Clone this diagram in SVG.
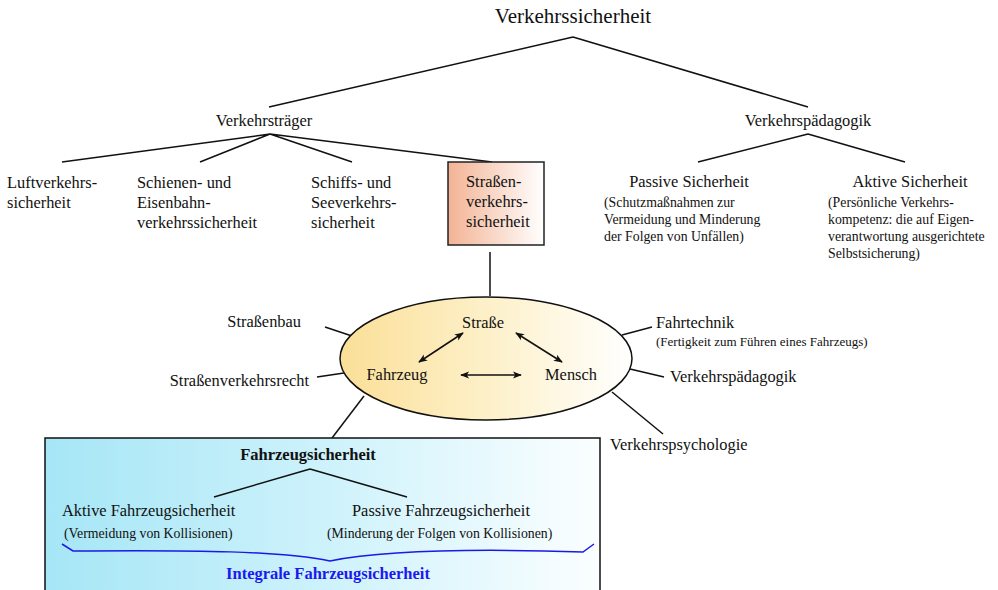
<svg xmlns="http://www.w3.org/2000/svg" width="998" height="590" viewBox="0 0 998 590">
<style>
text{font-family:"Liberation Serif","Times New Roman",serif;fill:#111}
.n{font-size:16.4px}
.s{font-size:13.8px}
.b{font-size:16.5px;font-weight:bold}
.c{text-anchor:middle}
.e{text-anchor:end}
.ln{stroke:#111;stroke-width:1.5;fill:none}
.ar{stroke:#111;stroke-width:1.5;fill:none;marker-start:url(#ah);marker-end:url(#ah)}
</style>
<defs>
<marker id="ah" viewBox="0 0 10 10" refX="9" refY="5" markerWidth="9" markerHeight="9" markerUnits="userSpaceOnUse" orient="auto-start-reverse">
<path d="M0,1 L10,5 L0,9 L2.5,5 Z" fill="#111"/>
</marker>
<linearGradient id="gOr" x1="0" y1="0" x2="1" y2="0">
<stop offset="0" stop-color="#f3b394"/>
<stop offset="1" stop-color="#ffffff"/>
</linearGradient>
<linearGradient id="gYe" x1="0" y1="0" x2="1" y2="0">
<stop offset="0" stop-color="#fbdf98"/>
<stop offset="0.5" stop-color="#fdf0c8"/>
<stop offset="1" stop-color="#ffffff"/>
</linearGradient>
<linearGradient id="gBl" x1="0" y1="0" x2="1" y2="0">
<stop offset="0" stop-color="#a6e6f6"/>
<stop offset="0.5" stop-color="#cdf2fb"/>
<stop offset="1" stop-color="#fbfeff"/>
</linearGradient>
</defs>

<g id="connectors">
<path class="ln" d="M573,37 L269,107 M573,37 L808,107"/>
<path class="ln" d="M270,134 L62,162 M270,134 L200,162 M270,134 L352,162 M270,134 L492,162"/>
<path class="ln" d="M808,134 L698,162 M808,134 L905,162"/>
<path class="ln" d="M490,252 L490,296"/>
<path class="ln" d="M325,327 L352,336"/>
<path class="ln" d="M317,377 L344,373"/>
<path class="ln" d="M364,396 L332,438"/>
<path class="ln" d="M622,335 L652,327"/>
<path class="ln" d="M630,369 L664,377"/>
<path class="ln" d="M612,392 L663,434"/>
</g>

<g id="n-root"><text class="c" x="573" y="23" style="font-size:21px">Verkehrssicherheit</text></g>
<g id="n-traeger"><text class="n c" x="264" y="126">Verkehrsträger</text></g>
<g id="n-paed"><text class="n c" x="808" y="126">Verkehrspädagogik</text></g>

<g id="n-luft"><text class="n" x="7" y="188">Luftverkehrs-</text><text class="n" x="7" y="208">sicherheit</text></g>
<g id="n-schiene"><text class="n" x="137" y="188">Schienen- und</text><text class="n" x="137" y="208">Eisenbahn-</text><text class="n" x="137" y="228">verkehrssicherheit</text></g>
<g id="n-schiff"><text class="n" x="311" y="188">Schiffs- und</text><text class="n" x="311" y="208">Seeverkehrs-</text><text class="n" x="311" y="228">sicherheit</text></g>
<g id="n-strasse-box"><rect x="448" y="162" width="96" height="83" fill="url(#gOr)" stroke="#222" stroke-width="1.5"/><text class="n" x="466" y="187">Straßen-</text><text class="n" x="466" y="207">verkehrs-</text><text class="n" x="466" y="227">sicherheit</text></g>

<g id="n-passiv"><text class="n c" x="689" y="187">Passive Sicherheit</text><text class="s" x="604" y="207">(Schutzmaßnahmen zur</text><text class="s" x="604" y="224">Vermeidung und Minderung</text><text class="s" x="604" y="241">der Folgen von Unfällen)</text></g>
<g id="n-aktiv"><text class="n c" x="910" y="187">Aktive Sicherheit</text><text class="s" x="828" y="207">(Persönliche Verkehrs-</text><text class="s" x="828" y="224">kompetenz: die auf Eigen-</text><text class="s" x="828" y="241">verantwortung ausgerichtete</text><text class="s" x="828" y="258">Selbstsicherung)</text></g>

<g id="n-ellipse">
<ellipse cx="486" cy="358.5" rx="146" ry="61.5" fill="url(#gYe)" stroke="#111" stroke-width="1.5"/>
<text class="n c" x="483" y="328">Straße</text>
<text class="n c" x="397" y="380">Fahrzeug</text>
<text class="n c" x="571" y="380">Mensch</text>
<path class="ar" d="M419,362 L463,333"/>
<path class="ar" d="M516,333 L562,362"/>
<path class="ar" d="M461,375 L521,375"/>
</g>

<g id="n-bau"><text class="n e" x="301" y="327">Straßenbau</text></g>
<g id="n-recht"><text class="n e" x="309" y="386">Straßenverkehrsrecht</text></g>
<g id="n-fahrtechnik"><text class="n" x="656" y="328">Fahrtechnik</text><text class="s" x="656" y="346" style="font-size:13px">(Fertigkeit zum Führen eines Fahrzeugs)</text></g>
<g id="n-vpaed"><text class="n" x="670" y="382">Verkehrspädagogik</text></g>
<g id="n-vpsych"><text class="n" x="610" y="450">Verkehrspsychologie</text></g>

<g id="n-fahrzeug-box">
<rect x="45" y="438" width="555" height="170" fill="url(#gBl)" stroke="#111" stroke-width="1.5"/>
<text class="b c" x="308" y="460">Fahrzeugsicherheit</text>
<path class="ln" d="M310,469 L214,497 M310,469 L407,497"/>
<text class="n" x="62" y="516">Aktive Fahrzeugsicherheit</text>
<text class="s" x="64" y="538">(Vermeidung von Kollisionen)</text>
<text class="n" x="352" y="516">Passive Fahrzeugsicherheit</text>
<text class="s" x="327" y="538">(Minderung der Folgen von Kollisionen)</text>
<path d="M62,544 L73,551 C 200,550 280,551 330,561 C 380,551 460,548 583,552 L594,544" fill="none" stroke="#1a1ae6" stroke-width="1.5"/>
<text class="b c" x="328" y="579" style="fill:#1a1aee">Integrale Fahrzeugsicherheit</text>
</g>
</svg>
